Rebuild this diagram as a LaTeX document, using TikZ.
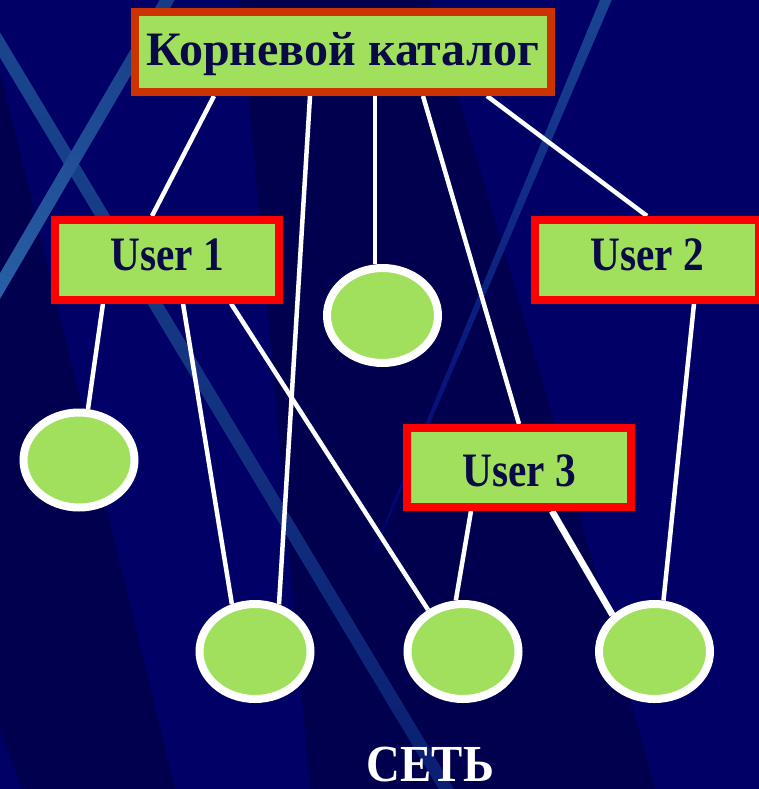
\documentclass[tikz,border=0pt]{standalone}
\usepackage{fontspec}
\usepackage{graphicx}
\setmainfont{Liberation Serif}
\usetikzlibrary{shapes.geometric}
\definecolor{bgdark}{HTML}{00004E}
\definecolor{bglight}{HTML}{000066}
\definecolor{boxgreen}{HTML}{A0E05C}
\definecolor{rootred}{HTML}{CC3300}
\definecolor{userred}{HTML}{FF0000}
\definecolor{textnavy}{HTML}{0A0A46}
\definecolor{stripeA1}{HTML}{1B4890}
\definecolor{stripeA2}{HTML}{2659A0}
\definecolor{stripeA3}{HTML}{0A1E72}
\definecolor{stripeB1}{HTML}{163A85}
\definecolor{stripeB2}{HTML}{2A62A8}
\definecolor{stripeC1}{HTML}{1A4692}
\definecolor{stripeC2}{HTML}{2A62AA}
\definecolor{stripeC3}{HTML}{000070}
\pgfdeclarelayer{back}
\pgfdeclarelayer{links}
\pgfsetlayers{back,links,main}
\begin{document}
\begin{tikzpicture}[x=1pt,y=-1pt,
  box/.style={draw, line width=8pt, fill=boxgreen, text=textnavy,
    font=\bfseries\fontsize{48}{52}\selectfont, inner sep=0pt,
    text height=31.8pt, text depth=0pt,
    minimum width=224pt, minimum height=79.5pt},
  rootbox/.style={box, draw=rootred, minimum width=416pt, minimum height=80pt},
  userbox/.style={box, draw=userred},
  host/.style={ellipse, draw=white, line width=8pt, fill=boxgreen,
    minimum width=111pt, minimum height=95pt, inner sep=0pt},
  link/.style={draw=white, line width=4.5pt},
  thicklink/.style={draw=white, line width=6.5pt},
  nettext/.style={font=\bfseries\fontsize{52}{56}\selectfont, text=white,
    inner sep=0pt, text height=34.4pt, text depth=0pt}
]
\useasboundingbox (0,0) rectangle (759,789);
\clip (0,0) rectangle (759,789);

% ---------- nodes ----------
\node[rootbox] (root) at (343,52) {\raisebox{2.5pt}{Корневой каталог}};
\node[userbox] (u1) at (167,259.75) {\raisebox{5pt}{\scalebox{0.86}[1]{User 1}}};
\node[userbox] (u2) at (647,259.75) {\raisebox{5pt}{\scalebox{0.86}[1]{User 2}}};
\node[userbox, minimum height=79pt] (u3) at (519,467.5) {\raisebox{-3.5pt}{\scalebox{0.86}[1]{User 3}}};

\node[host] (e1) at (79,460) {};
\node[host] (e2) at (382.5,315.5) {};
\node[host] (e3) at (255,651.5) {};
\node[host] (e4) at (463,651.5) {};
\node[host] (e5) at (654.5,651.5) {};

\node[nettext] (net) at (430.5,763.8) {\scalebox{0.9}[1]{СЕТЬ}};

% ---------- background ----------
\begin{pgfonlayer}{back}
  \fill[bgdark] (0,0) rectangle (759,789);
  \fill[bglight] (0,0) -- (240,0) -- (310,789) -- (175,789) -- (0,70) -- cycle;
  \fill[bglight] (430,0) -- (759,0) -- (759,789) -- (655,789) -- (548,400) -- cycle;
  \fill[bglight] (0,730) -- (22,789) -- (0,789) -- cycle;
  % stripe A
  \begin{scope}[transform canvas={shift={(-33pt,10pt)}, rotate=-59.04}]
    \shade[left color=stripeA1, middle color=stripeA2, right color=stripeA3]
      (0pt,-6.5pt) rectangle (945pt,6.5pt);
  \end{scope}
  % stripe B
  \begin{scope}[transform canvas={shift={(173pt,10pt)}, rotate=-120.3}]
    \shade[left color=stripeB1, right color=stripeB2]
      (0pt,-6.5pt) rectangle (383pt,6.5pt);
  \end{scope}
  % stripe C
  \begin{scope}[transform canvas={shift={(610pt,10pt)}, rotate=-112.8}]
    \shade[left color=stripeC1, middle color=stripeC2, right color=stripeC3]
      (0pt,-5.5pt) -- (608pt,-1pt) -- (608pt,1pt) -- (0pt,5.5pt) -- cycle;
  \end{scope}
\end{pgfonlayer}

% ---------- connectors ----------
\begin{pgfonlayer}{links}
  \draw[link] ([xshift=-129pt]root.south) -- ([xshift=-15pt]u1.north);
  \draw[link] ([xshift=-33pt]root.south) -- (e3.63);
  \draw[link] ([xshift=32pt]root.south) -- ([xshift=-7.5pt]e2.north);
  \draw[link] ([xshift=80pt]root.south) -- (u3.north);
  \draw[link] ([xshift=144pt]root.south) -- (u2.north);
  \draw[link] ([xshift=-64pt]u1.south) -- (e1.80);
  \draw[link] ([xshift=16pt]u1.south) -- (e3.116);
  \draw[link] ([xshift=64pt]u1.south) -- (e4.130);
  \draw[link] ([xshift=47pt]u2.south) -- (e5.80);
  \draw[link] ([xshift=-48pt]u3.south) -- (e4.98);
  \draw[thicklink] ([xshift=33pt]u3.south) -- (e5.139);
\end{pgfonlayer}
\end{tikzpicture}
\end{document}
